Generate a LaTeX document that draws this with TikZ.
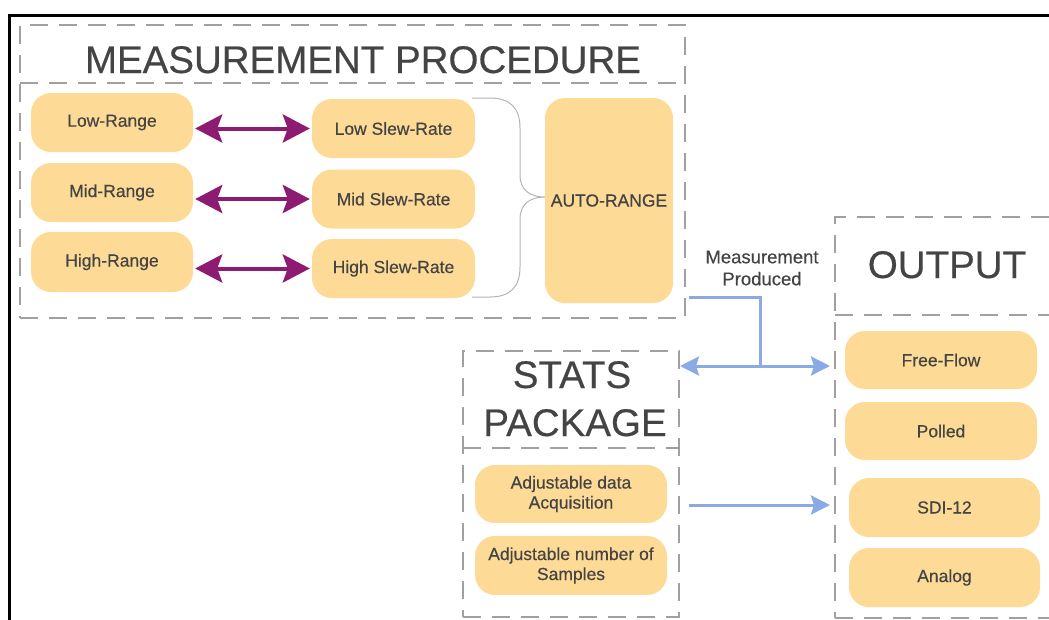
\documentclass[tikz,border=0pt]{standalone}
\usepackage{fontspec}
\setmainfont{Liberation Sans}
\newfontfamily\heavysans[FakeBold=0.4]{Liberation Sans}
\usetikzlibrary{arrows.meta}
\definecolor{boxfill}{HTML}{FDDA95}
\definecolor{txt}{HTML}{444444}
\definecolor{dashgray}{HTML}{A0A0A0}
\definecolor{purp}{HTML}{8E1B72}
\definecolor{blu}{HTML}{8AAAE6}
\definecolor{bracegray}{HTML}{B4B4B4}
\begin{document}
\begin{tikzpicture}[x=1pt,y=-1pt,
  box/.style={fill=boxfill, rounded corners=20pt, inner sep=0pt, align=center, text=txt,
    font=\heavysans\fontsize{17.5}{20}\selectfont},
  container/.style={draw=dashgray, line width=2pt, dash pattern=on 18pt off 11pt, inner sep=0pt},
  divider/.style={draw=dashgray, line width=2pt, dash pattern=on 18pt off 11pt},
  title/.style={text=txt, font=\heavysans\fontsize{38.5}{44}\selectfont, anchor=base, inner sep=0pt},
  purparrow/.style={draw=purp, line width=4pt,
    {Stealth[length=27pt,width=28pt,inset=5pt]}-{Stealth[length=27pt,width=28pt,inset=5pt]}},
  bluline/.style={draw=blu, line width=3pt},
  bluhead/.style={-{Stealth[length=19pt,width=19pt,inset=3pt]}},
  bluheads/.style={{Stealth[length=19pt,width=19pt,inset=3pt]}-{Stealth[length=19pt,width=19pt,inset=3pt]}},
  bracestyle/.style={draw=bracegray, line width=1pt},
  label/.style={text=txt, align=center, inner sep=0pt, font=\heavysans\fontsize{18.5}{22}\selectfont}
]
\useasboundingbox (0,0) rectangle (1049,619);
\clip (0,0) rectangle (1049,619);

% outer black frame
\draw[line width=2.2pt, black] (9.5,640) -- (9.5,15.5) -- (1070,15.5);

% containers
\node[container, minimum width=665pt, minimum height=293pt] (mp) at (352.5,171.5) {};
\draw[divider] (20,83) -- (685,83);
\node[title] (mptitle) at (363,73) {MEASUREMENT PROCEDURE};

\node[container, minimum width=216pt, minimum height=266pt] (sp) at (571,484) {};
\draw[divider] (463,448) -- (679,448);
\node[title] (sptitle1) at (572,388) {STATS};
\node[title] (sptitle2) at (575,436) {PACKAGE};

\node[container, minimum width=240pt, minimum height=401pt] (op) at (955,417.5) {};
\draw[divider] (835,315) -- (1075,315);
\node[title] (optitle) at (947,278) {OUTPUT};

% measurement boxes
\node[box, minimum width=162pt, minimum height=59pt] (lr) at (112,122.5) {Low-Range};
\node[box, minimum width=162pt, minimum height=59pt] (mr) at (112,192.5) {Mid-Range};
\node[box, minimum width=162pt, minimum height=60pt] (hr) at (112,262) {High-Range};
\node[box, minimum width=163pt, minimum height=59pt] (ls) at (393.5,128.5) {Low Slew-Rate};
\node[box, minimum width=163pt, minimum height=59pt] (ms) at (393.5,199) {Mid Slew-Rate};
\node[box, minimum width=163pt, minimum height=59pt] (hs) at (393.5,268.5) {High Slew-Rate};
\node[box, minimum width=128pt, minimum height=205pt] (ar) at (609,200.5) {AUTO-RANGE};

% stats boxes
\node[box, minimum width=192pt, minimum height=58pt] (sa) at (571,494) {Adjustable data\\Acquisition};
\node[box, minimum width=192pt, minimum height=59pt] (sn) at (571,565.5) {Adjustable number of\\Samples};

% output boxes
\node[box, minimum width=192pt, minimum height=58pt] (ff) at (941,360) {Free-Flow};
\node[box, minimum width=192pt, minimum height=58pt] (po) at (941,431) {Polled};
\node[box, minimum width=191pt, minimum height=59pt] (sdi) at (944.5,507.5) {SDI-12};
\node[box, minimum width=191pt, minimum height=59pt] (an) at (944.5,577.5) {Analog};

% purple double arrows
\draw[purparrow, shorten <=2pt, shorten >=2pt] (lr.east |- ls.west) -- (ls.west);
\draw[purparrow, shorten <=2pt, shorten >=2pt] (mr.east |- ms.west) -- (ms.west);
\draw[purparrow, shorten <=2pt, shorten >=2pt] (hr.east |- hs.west) -- (hs.west);

% brace
\draw[bracestyle] (472,98) -- (490,98) .. controls (510,98) and (520,108) .. (520,128)
  -- (520,175) .. controls (520,190) and (530,197) .. (ar.west |- 0,197)
  .. controls (530,197) and (520,204) .. (520,219)
  -- (520,267) .. controls (520,287) and (510,297) .. (490,297) -- (472,297);

% measurement produced
\node[label] (mplabel) at (762,268) {Measurement\\Produced};
\coordinate (mpout) at (689,297);
\coordinate (junc) at (760,366);
\draw[bluline] (mpout) -| (junc);
\draw[bluline, bluheads, shorten <=0pt, shorten >=4pt] (sp.east |- junc) -- (op.west |- junc);

\coordinate (sastart) at (689,505);
\draw[bluline, bluhead, shorten >=4pt] (sastart) -- (op.west |- sastart);
\end{tikzpicture}
\end{document}
